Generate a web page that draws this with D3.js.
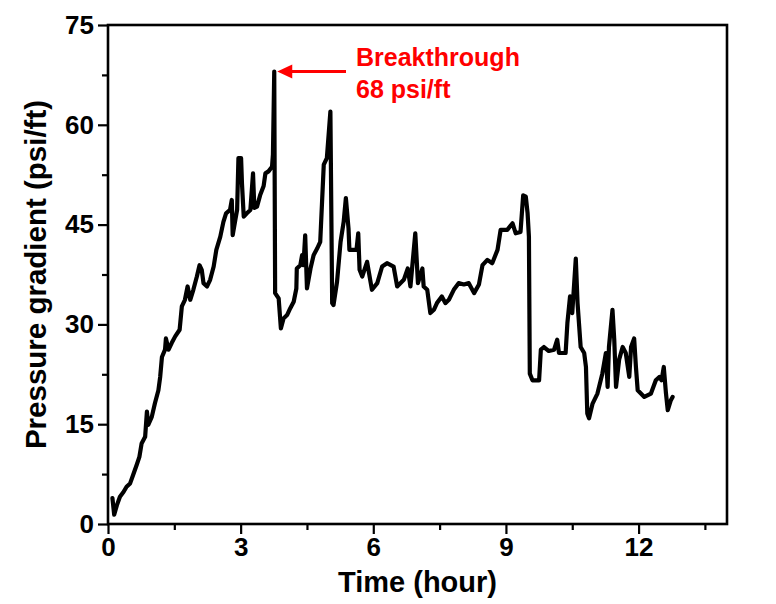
<!DOCTYPE html>
<html>
<head>
<meta charset="utf-8">
<script src="https://cdn.jsdelivr.net/npm/d3@7"></script>
<style>
  html, body { margin: 0; padding: 0; background: #ffffff; }
  svg { display: block; }
  text { font-family: "Liberation Sans", Arial, sans-serif; font-weight: bold; }
</style>
</head>
<body>
<svg id="chart" width="776" height="604"></svg>
<script>
// Pressure gradient record over the flooding test
const timeHours = [
  0.10, 0.14, 0.20, 0.27, 0.35, 0.42, 0.50, 0.57, 0.65, 0.71, 0.76, 0.84, 0.88, 0.91, 0.99,
  1.06, 1.14, 1.18, 1.22, 1.29, 1.31, 1.37, 1.44, 1.52, 1.62, 1.67, 1.74, 1.80, 1.86, 1.93,
  2.01, 2.07, 2.12, 2.16, 2.24, 2.31, 2.39, 2.45, 2.54, 2.61, 2.67, 2.76, 2.80, 2.82, 2.88, 2.92, 2.95,
  3.01, 3.03, 3.07, 3.14, 3.22, 3.28, 3.31, 3.37, 3.44, 3.52, 3.56, 3.63, 3.71, 3.73, 3.76, 3.78, 3.86, 3.91, 3.97,
  4.05, 4.12, 4.20, 4.26, 4.27, 4.35, 4.39, 4.42, 4.46, 4.50, 4.58, 4.65, 4.73, 4.80, 4.88, 4.95,
  5.03, 5.07, 5.10, 5.18, 5.26, 5.33, 5.38, 5.44, 5.46, 5.62, 5.66, 5.69, 5.75, 5.86, 5.93, 5.97,
  6.09, 6.20, 6.31, 6.46, 6.54, 6.69, 6.78, 6.84, 6.95,
  7.01, 7.11, 7.14, 7.22, 7.29, 7.37, 7.44, 7.55, 7.63, 7.71, 7.82, 7.93,
  8.05, 8.16, 8.28, 8.39, 8.47, 8.58, 8.69, 8.81, 8.88,
  9.03, 9.15, 9.22, 9.33, 9.39, 9.45, 9.49, 9.52, 9.54, 9.60, 9.75, 9.79, 9.86, 9.97,
  10.09, 10.16, 10.20, 10.35, 10.39, 10.45, 10.50, 10.58, 10.62, 10.69, 10.77, 10.81, 10.84, 10.88, 10.96,
  11.07, 11.18, 11.26, 11.30, 11.33, 11.41, 11.45, 11.49, 11.56, 11.64, 11.71, 11.79, 11.83, 11.90, 11.94, 11.98,
  12.13, 12.28, 12.39, 12.47, 12.52, 12.57, 12.62, 12.66, 12.73, 12.77
];
const gradientPsiFt = [
  3.9, 1.4, 2.8, 4.1, 4.8, 5.6, 6.1, 7.4, 8.9, 10.1, 12.1, 13.1, 16.9, 14.9, 16.1,
  18.1, 20.1, 22.1, 25.1, 26.2, 27.9, 26.2, 27.2, 28.2, 29.2, 32.7, 33.7, 35.7, 33.7, 35.2,
  37.2, 38.9, 38.2, 36.2, 35.7, 36.7, 38.7, 41.2, 43.2, 45.4, 46.7, 47.2, 48.7, 43.4, 45.7, 47.2, 55.0,
  55.0, 51.2, 46.2, 46.7, 47.2, 52.7, 47.5, 47.7, 49.4, 50.8, 52.7, 53.0, 53.7, 55.5, 68.0, 34.7, 33.9, 29.4, 30.9,
  31.4, 32.4, 33.4, 35.4, 38.4, 38.9, 40.4, 38.9, 43.4, 35.4, 38.4, 40.4, 41.4, 42.4, 54.0, 55.0,
  62.0, 33.2, 32.9, 36.4, 42.4, 45.4, 49.0, 44.4, 41.2, 41.2, 43.7, 38.2, 37.2, 39.4, 36.7, 35.2,
  36.2, 38.7, 39.2, 38.7, 35.7, 36.7, 38.4, 35.7, 43.7,
  36.2, 38.4, 35.7, 35.2, 31.7, 32.2, 33.2, 34.2, 33.2, 33.7, 35.2, 36.2,
  36.0, 36.2, 34.7, 36.0, 38.9, 39.7, 39.2, 41.2, 44.2,
  44.2, 45.2, 43.7, 43.9, 49.4, 49.2, 46.7, 43.2, 22.6, 21.6, 21.6, 26.2, 26.6, 26.0,
  26.2, 27.7, 25.7, 25.7, 30.2, 34.2, 31.7, 39.9, 33.2, 26.6, 25.7, 23.6, 16.6, 15.9, 18.1,
  19.6, 22.6, 25.7, 20.6, 26.6, 32.2, 27.7, 20.6, 24.7, 26.6, 25.7, 22.1, 26.6, 27.9, 23.6, 20.1,
  19.1, 19.6, 21.6, 22.1, 21.6, 23.6, 19.6, 17.1, 18.6, 19.1
];

const xMajorTicks = [0, 3, 6, 9, 12];
const xMinorTicks = [1.5, 4.5, 7.5, 10.5, 13.5];
const yMajorTicks = [0, 15, 30, 45, 60, 75];
const yMinorTicks = [7.5, 22.5, 37.5, 52.5, 67.5];

const xLabel = "Time (hour)";
const yLabel = "Pressure gradient (psi/ft)";
const breakthroughTime = 3.76;
const breakthroughValue = 68;
const noteLines = ["Breakthrough", breakthroughValue + " psi/ft"];

const series = timeHours.map((t, i) => ({ t, v: gradientPsiFt[i] }));

const svg = d3.select("#chart");
const plotLeft = 108, plotRight = 727, plotTop = 25, plotBottom = 524;

const x = d3.scaleLinear().domain([0, 14]).range([plotLeft, plotRight]);
const y = d3.scaleLinear().domain([0, 75]).range([plotBottom, plotTop]);

// Data trace
svg.append("path")
  .datum(series)
  .attr("fill", "none")
  .attr("stroke", "#000")
  .attr("stroke-width", 4.2)
  .attr("stroke-linejoin", "round")
  .attr("stroke-linecap", "round")
  .attr("d", d3.line().x(d => x(d.t)).y(d => y(d.v)));

// Axes: major ticks with labels, minor ticks without
const tickFont = 26;
const gx = svg.append("g").attr("transform", `translate(0,${plotBottom})`);
gx.call(d3.axisBottom(x).tickValues(xMajorTicks).tickSize(10).tickSizeOuter(0).tickPadding(4).tickFormat(d3.format("d")));
gx.append("g").call(d3.axisBottom(x).tickValues(xMinorTicks).tickSize(6).tickSizeOuter(0).tickFormat(""));

const gy = svg.append("g").attr("transform", `translate(${plotLeft},0)`);
gy.call(d3.axisLeft(y).tickValues(yMajorTicks).tickSize(10).tickSizeOuter(0).tickPadding(4).tickFormat(d3.format("d")));
gy.append("g").call(d3.axisLeft(y).tickValues(yMinorTicks).tickSize(6).tickSizeOuter(0).tickFormat(""));

svg.selectAll(".domain").remove();
svg.selectAll(".tick line").attr("stroke", "#000").attr("stroke-width", 2.2);
svg.selectAll(".tick text")
  .attr("fill", "#000")
  .style("font-size", tickFont + "px")
  .style("font-family", "'Liberation Sans', Arial, sans-serif")
  .style("font-weight", "bold");

// Frame around the plot area
svg.append("rect")
  .attr("x", plotLeft).attr("y", plotTop)
  .attr("width", plotRight - plotLeft).attr("height", plotBottom - plotTop)
  .attr("fill", "none")
  .attr("stroke", "#000")
  .attr("stroke-width", 2.6);

// Axis titles
svg.append("text")
  .attr("x", (plotLeft + plotRight) / 2)
  .attr("y", 592)
  .attr("text-anchor", "middle")
  .style("font-size", "29px")
  .text(xLabel);

svg.append("text")
  .attr("transform", `translate(46,${(plotTop + plotBottom) / 2}) rotate(-90)`)
  .attr("text-anchor", "middle")
  .style("font-size", "29.5px")
  .text(yLabel);

// Breakthrough annotation
const red = "#ff0000";
const ax = x(breakthroughTime) + 3;
const ay = y(breakthroughValue);
svg.append("line")
  .attr("x1", ax + 12).attr("y1", ay)
  .attr("x2", 346).attr("y2", ay)
  .attr("stroke", red).attr("stroke-width", 3);
svg.append("path")
  .attr("d", `M${ax},${ay} L${ax + 15},${ay - 7} L${ax + 15},${ay + 7} Z`)
  .attr("fill", red);

const note = svg.append("text")
  .attr("x", 356)
  .attr("y", 66)
  .attr("fill", red)
  .style("font-size", "25px");
note.selectAll("tspan")
  .data(noteLines)
  .join("tspan")
  .attr("x", 356)
  .attr("dy", (d, i) => i === 0 ? 0 : 32)
  .text(d => d);
</script>
</body>
</html>
